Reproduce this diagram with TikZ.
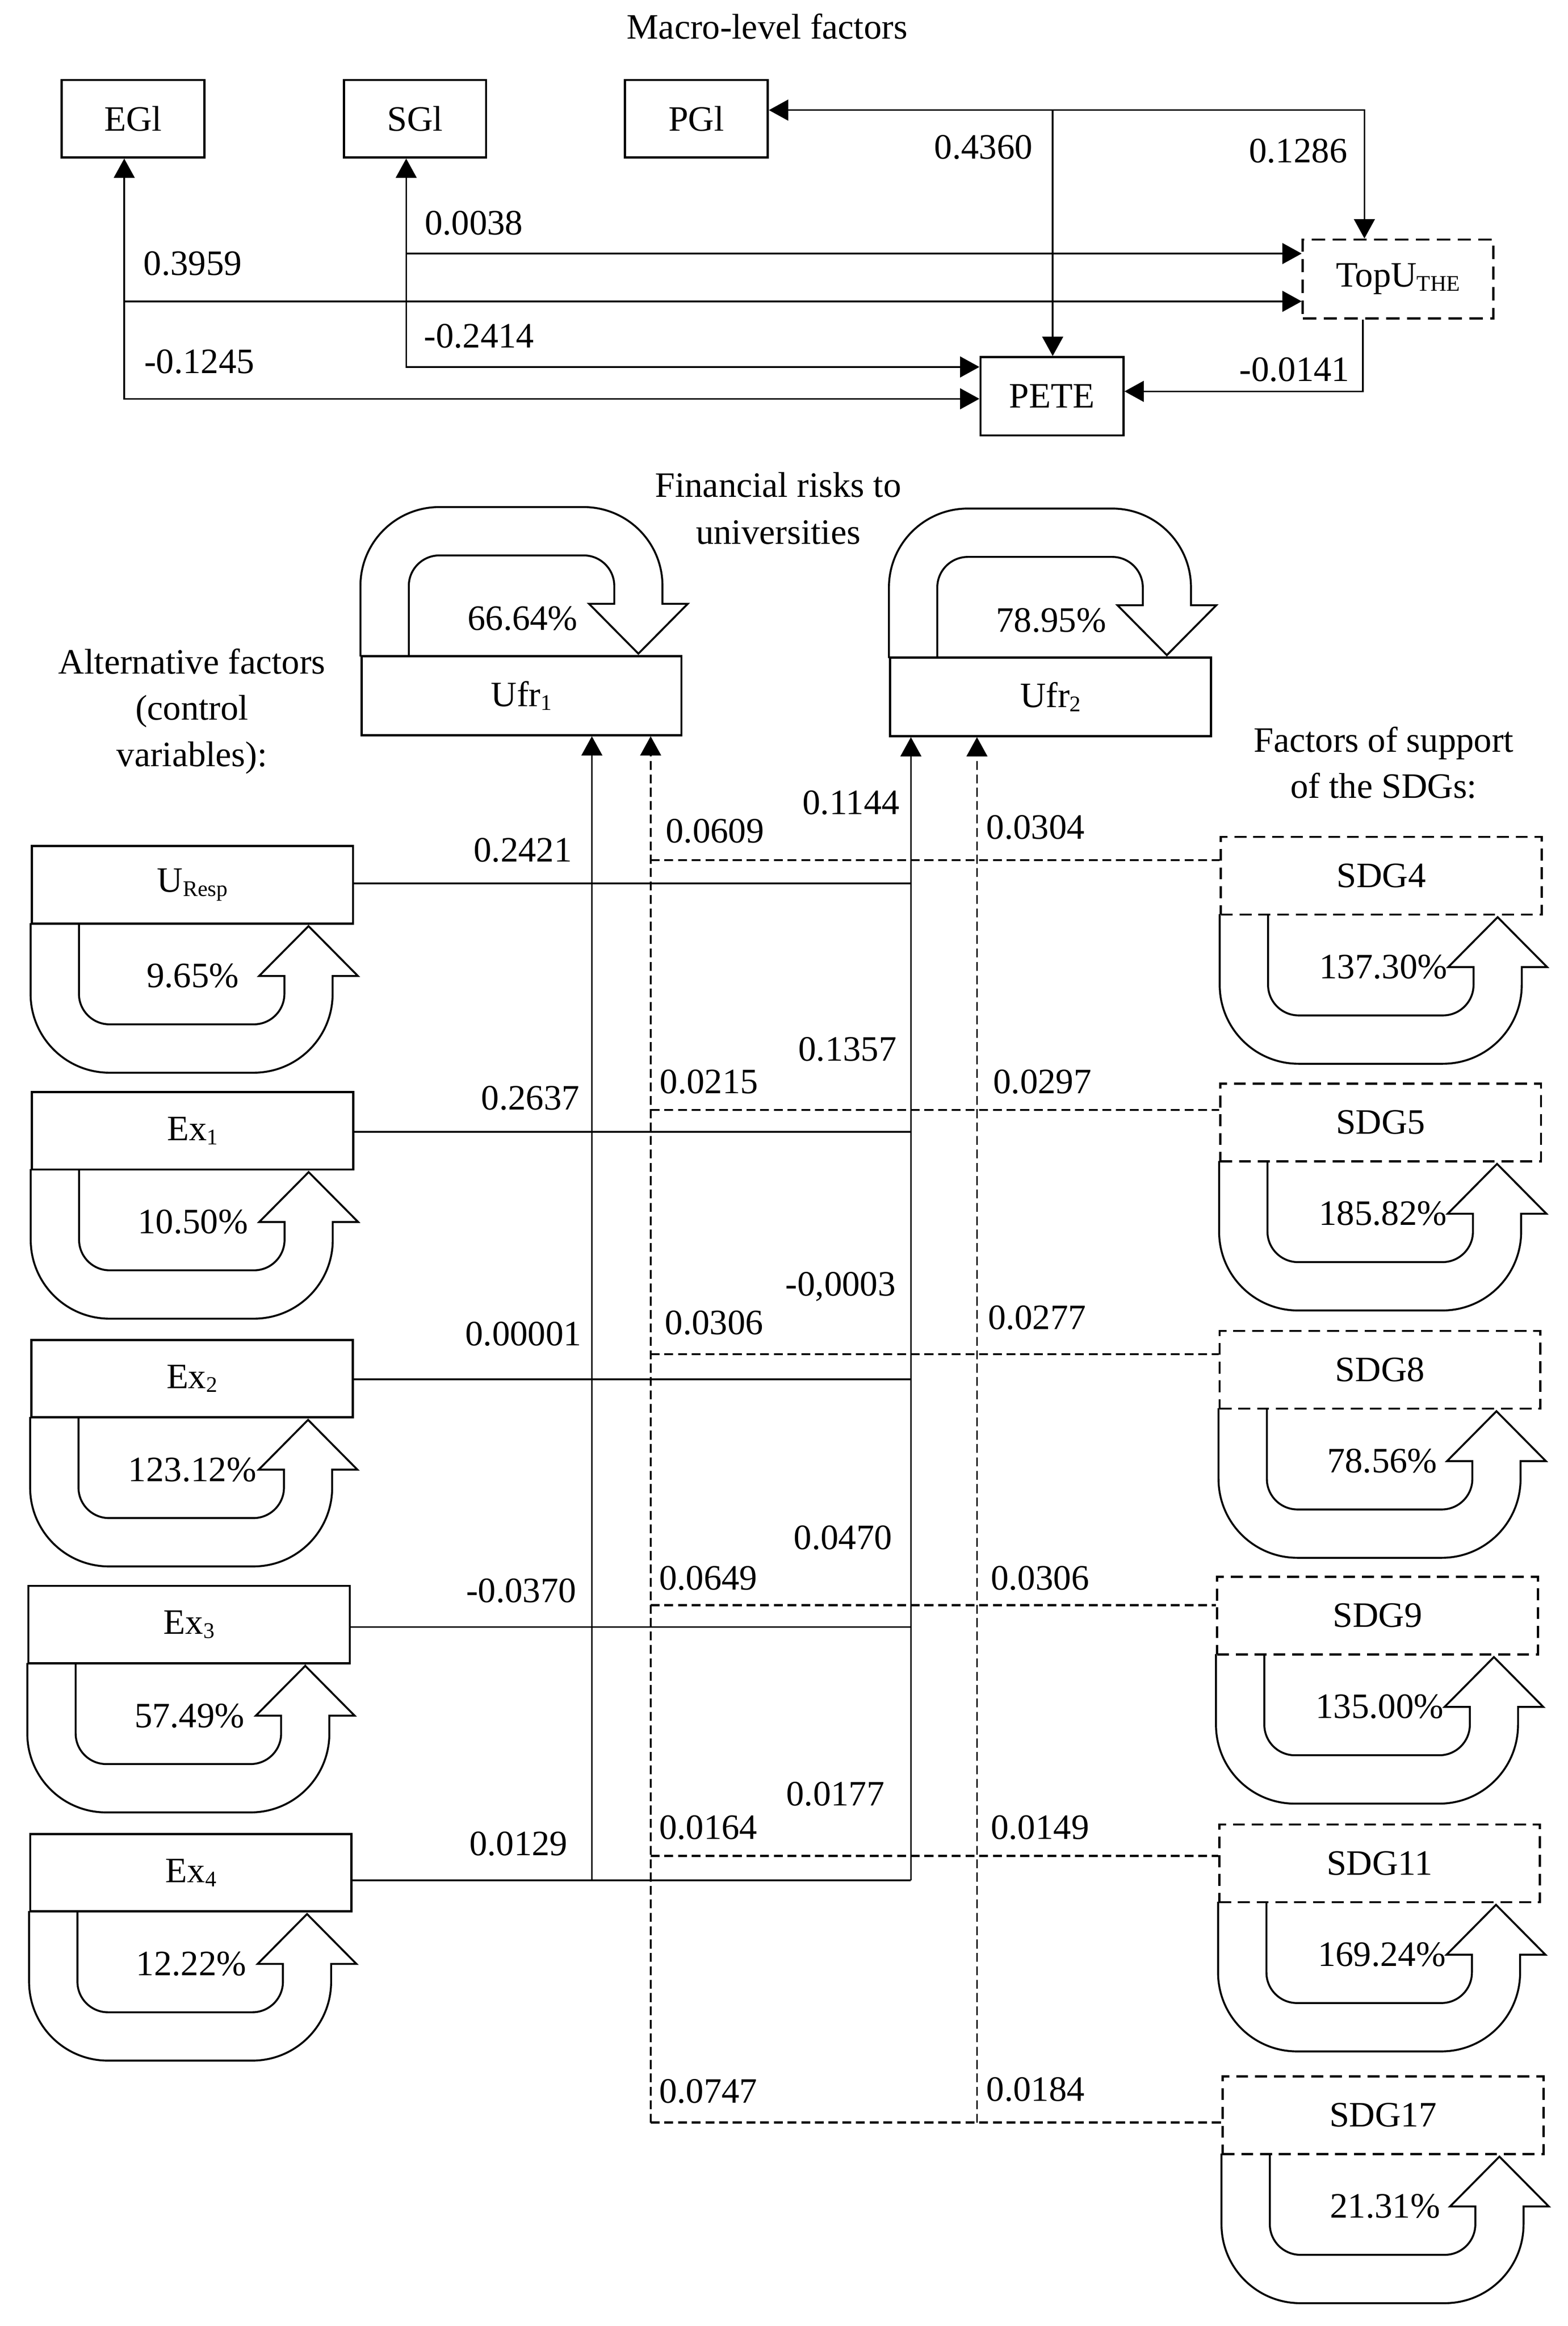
\documentclass[tikz,border=0pt]{standalone}
\usepackage{fontspec}
\setmainfont{Liberation Serif}
\usetikzlibrary{arrows.meta,calc}
\newcommand\mysub[1]{\raisebox{-1.3pt}{\fontsize{7.5}{9}\selectfont #1}}
\tikzset{
  box/.style={draw,line width=0.75pt,inner sep=0pt},
  dbox/.style={box,dash pattern=on 4pt off 2.3pt},
  conn/.style={line width=0.55pt},
  arr/.style={conn,-{Triangle[length=6.5pt,width=7pt]}},
  arrtwo/.style={conn,{Triangle[length=6.5pt,width=7pt]}-{Triangle[length=6.5pt,width=7pt]}},
  varr/.style={arr,dash pattern=on 3pt off 1.5pt},
  hdash/.style={line width=0.75pt,dash pattern=on 3pt off 1.6pt},
  lbl/.style={inner sep=0pt},
  loopline/.style={line width=0.65pt},
  loopshape/.pic={
    \draw[loopline] (0,-1) -- (0,46.5) .. controls (0,75.8) and (23.7,99.5) .. (53,99.5)
      -- (150,99.5) .. controls (179.3,99.5) and (203,75.8) .. (203,46.5)
      -- (203,34.5) -- (220,34.5) -- (186.8,1) -- (153.6,34.5) -- (170.6,34.5)
      -- (170.6,46.5) .. controls (170.6,57.8) and (161.4,67) .. (150.1,67)
      -- (53,67) .. controls (41.7,67) and (32.5,57.8) .. (32.5,46.5) -- (32.5,-1);
  }
}
\begin{document}
\begin{tikzpicture}[x=0.5pt,y=-0.5pt,font=\fontsize{12}{14}\selectfont]
\fill[white] (0,0) rectangle (1053.7,1563.1);
\path[use as bounding box] (0,0) rectangle (1053.7,1563.1);

% ---------- titles ----------
\node[lbl] (tMacro) at (515.6,17.8) {Macro-level factors};
\node[lbl,align=center,font=\fontsize{12}{15.85}\selectfont] (tFin) at (523,341.7) {Financial risks to\\universities};
\node[lbl,align=center,font=\fontsize{12}{15.5}\selectfont] (tAlt) at (129,478) {Alternative factors\\(control\\variables):};
\node[lbl,align=center,font=\fontsize{12}{15.5}\selectfont] (tSup) at (930,512.5) {Factors of support\\of the SDGs:};

% ---------- top boxes ----------
\node[box,minimum width=48pt,minimum height=26pt] (EGl) at (89.5,79.8) {EGl};
\node[box,minimum width=47.7pt,minimum height=26pt] (SGl) at (279,79.8) {SGl};
\node[box,minimum width=48pt,minimum height=26pt] (PGl) at (468,79.8) {PGl};
\node[dbox,minimum width=64pt,minimum height=26.5pt,dash pattern=on 4.5pt off 2.5pt] (TopU) at (939.6,187.5) {TopU\mysub{THE}};
\node[box,minimum width=48pt,minimum height=26.3pt] (PETE) at (707,266.3) {PETE};

% ---------- top connectors ----------
\coordinate (tj) at (917,74);
\coordinate (pj) at (707.5,74);
\coordinate (e1) at (83.5,202.5);
\coordinate (eb) at (83.5,268);
\coordinate (s1) at (273,170.4);
\coordinate (sb) at (273,246.6);
\coordinate (tb) at (916,263);

\draw[arrtwo] (PGl.east |- tj) -- (tj) -- (tj |- TopU.north);
\draw[arr] (pj) -- (pj |- PETE.north);
\draw[arrtwo] (EGl.south -| eb) -- (eb) -- (eb -| PETE.west);
\draw[arr] (e1) -- (e1 -| TopU.west);
\draw[arrtwo] (SGl.south -| sb) -- (sb) -- (sb -| PETE.west);
\draw[arr] (s1) -- (s1 -| TopU.west);
\draw[arr] (TopU.south -| tb) -- (tb) -- (tb -| PETE.east);

\node[lbl] (w1) at (661,99) {0.4360};
\node[lbl] (w2) at (872.5,101.5) {0.1286};
\node[lbl] (w3) at (318.5,150) {0.0038};
\node[lbl] (w4) at (129.5,177) {0.3959};
\node[lbl] (w5) at (322,226) {-0.2414};
\node[lbl] (w6) at (134,243) {-0.1245};
\node[lbl] (w7) at (870,248.5) {-0.0141};

% ---------- financial risk boxes ----------
\node[box,minimum width=107.5pt,minimum height=26.5pt] (Ufr1) at (350.5,467.5) {Ufr\mysub{1}};
\node[box,minimum width=107.8pt,minimum height=26.3pt] (Ufr2) at (706,468.3) {Ufr\mysub{2}};
\pic[yscale=-1] at (Ufr1.north west) {loopshape};
\pic[yscale=-1] at (Ufr2.north west) {loopshape};
\node[lbl] (p1) at ($(Ufr1.north west)+(109,-24.5)$) {66.64\%};
\node[lbl] (p2) at ($(Ufr2.north west)+(109,-24.5)$) {78.95\%};

% ---------- alternative factor boxes ----------
\node[box,minimum width=108pt,minimum height=26pt] (UResp) at (129.3,594.6) {U\mysub{Resp}};
\node[box,minimum width=108pt,minimum height=26pt] (Ex1) at (129.4,759.9) {Ex\mysub{1}};
\node[box,minimum width=108pt,minimum height=26pt] (Ex2) at (129,926.4) {Ex\mysub{2}};
\node[box,minimum width=108pt,minimum height=26pt] (Ex3) at (127.1,1091.7) {Ex\mysub{3}};
\node[box,minimum width=108pt,minimum height=26pt] (Ex4) at (128.3,1258.5) {Ex\mysub{4}};
\foreach \b/\v in {UResp/9.65, Ex1/10.50, Ex2/123.12, Ex3/57.49, Ex4/12.22}{
  \pic at (\b.south west) {loopshape};
  \node[lbl] (pc\b) at ($(\b.south west)+(109,34.5)$) {\v\%};
}

% ---------- SDG boxes ----------
\node[dbox,minimum width=107.8pt,minimum height=26.1pt] (SDG4) at (928.3,588.5) {SDG4};
\node[dbox,minimum width=107.8pt,minimum height=26.1pt] (SDG5) at (927.9,754.3) {SDG5};
\node[dbox,minimum width=107.8pt,minimum height=26.1pt] (SDG8) at (927.5,920.5) {SDG8};
\node[dbox,minimum width=107.8pt,minimum height=26.1pt] (SDG9) at (925.8,1085.7) {SDG9};
\node[dbox,minimum width=107.8pt,minimum height=26.1pt] (SDG11) at (927.2,1252.2) {SDG11};
\node[dbox,minimum width=107.8pt,minimum height=26.1pt] (SDG17) at (929.5,1421.4) {SDG17};
\foreach \b/\v in {SDG4/137.30, SDG5/185.82, SDG8/78.56, SDG9/135.00, SDG11/169.24, SDG17/21.31}{
  \pic at (\b.south west) {loopshape};
  \node[lbl] (pc\b) at ($(\b.south west)+(110,34.4)$) {\v\%};
}

% ---------- vertical collectors ----------
\coordinate (v1b) at (397.8,1263.6);
\coordinate (v2b) at (612.2,1263.6);
\coordinate (d1b) at (437.3,1426.4);
\coordinate (d2b) at (656.6,1426.4);
\draw[arr] (v1b) -- (v1b |- Ufr1.south);
\draw[arr] (v2b) -- (v2b |- Ufr2.south);
\draw[varr] (d1b) -- (d1b |- Ufr1.south);
\draw[varr] (d2b) -- (d2b |- Ufr2.south);

% ---------- rows: solid lines ----------
\coordinate (a0) at (612.2,593.7);
\coordinate (a1) at (612.2,760.6);
\coordinate (a2) at (612.2,926.9);
\coordinate (a3) at (612.2,1093.3);
\draw[conn] (UResp.east |- a0) -- (a0);
\draw[conn] (Ex1.east |- a1) -- (a1);
\draw[conn] (Ex2.east |- a2) -- (a2);
\draw[conn] (Ex3.east |- a3) -- (a3);
\draw[conn] (Ex4.east |- v2b) -- (v2b);

% ---------- rows: dashed lines ----------
\coordinate (b0) at (437.3,578);
\coordinate (b1) at (437.3,745.9);
\coordinate (b2) at (437.3,910);
\coordinate (b3) at (437.3,1078.8);
\coordinate (b4) at (437.3,1247.3);
\draw[hdash] (b0) -- (b0 -| SDG4.west);
\draw[hdash] (b1) -- (b1 -| SDG5.west);
\draw[hdash] (b2) -- (b2 -| SDG8.west);
\draw[hdash] (b3) -- (b3 -| SDG9.west);
\draw[hdash] (b4) -- (b4 -| SDG11.west);
\draw[hdash] (d1b) -- (d1b -| SDG17.west);

% ---------- row labels ----------
\node[lbl] (c01) at (351.4,571.4) {0.2421};
\node[lbl] (c02) at (480.5,558.4) {0.0609};
\node[lbl] (c03) at (572,539.4) {0.1144};
\node[lbl] (c04) at (696,556) {0.0304};
\node[lbl] (c11) at (356.5,738) {0.2637};
\node[lbl] (c12) at (476.5,727) {0.0215};
\node[lbl] (c13) at (569.6,705) {0.1357};
\node[lbl] (c14) at (700.6,727) {0.0297};
\node[lbl] (c21) at (351.8,896.5) {0.00001};
\node[lbl] (c22) at (480,889) {0.0306};
\node[lbl] (c23) at (565,864.7) {-0,0003};
\node[lbl] (c24) at (697,885.5) {0.0277};
\node[lbl] (c31) at (350.3,1069) {-0.0370};
\node[lbl] (c32) at (476,1060.5) {0.0649};
\node[lbl] (c33) at (566.6,1033.4) {0.0470};
\node[lbl] (c34) at (699,1060.5) {0.0306};
\node[lbl] (c41) at (348.5,1239) {0.0129};
\node[lbl] (c42) at (476,1228) {0.0164};
\node[lbl] (c43) at (561.5,1205.6) {0.0177};
\node[lbl] (c44) at (699,1228) {0.0149};
\node[lbl] (c52) at (476,1405.5) {0.0747};
\node[lbl] (c54) at (696,1404) {0.0184};
\end{tikzpicture}
\end{document}
